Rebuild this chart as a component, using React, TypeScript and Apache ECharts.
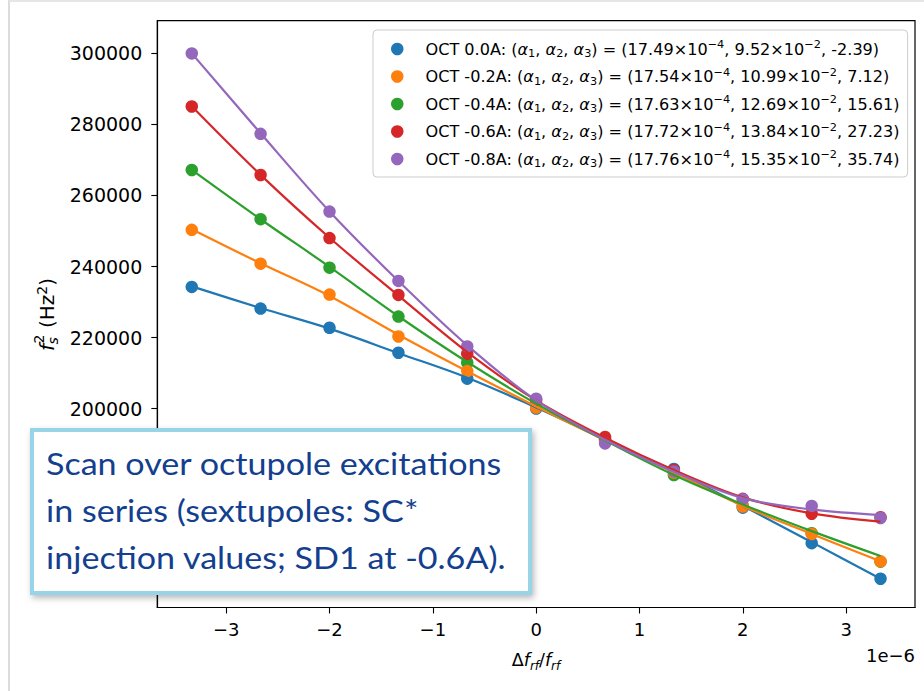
import React, { useEffect, useRef } from "react";
import * as echarts from "echarts";

// x positions in units of 1e-6 (Δf_rf / f_rf)
const X_VALUES = [-3.333, -2.667, -2.0, -1.333, -0.667, 0.0, 0.667, 1.333, 2.0, 2.667, 3.333];
const X_TICKS = [-3, -2, -1, 0, 1, 2, 3];
const Y_TICKS = [160000, 180000, 200000, 220000, 240000, 260000, 280000, 300000];

const SERIES_NAMES = ["OCT 0.0A", "OCT -0.2A", "OCT -0.4A", "OCT -0.6A", "OCT -0.8A"];
const SERIES_COLORS = ["#1f77b4", "#ff7f0e", "#2ca02c", "#d62728", "#9467bd"];

// measured points f_s^2 (Hz^2)
const PTS_0_0A = [234250, 228160, 222750, 215720, 208420, 200000, 191000, 183000, 172100, 162100, 152100];
const PTS_0_2A = [250330, 240790, 232090, 220300, 210550, 200300, 191200, 182000, 172400, 164700, 157000];
const PTS_0_4A = [267170, 253330, 239660, 225910, 212910, 201500, 191300, 181300, 172600, 164900, 156900];
const PTS_0_6A = [285050, 265770, 248000, 232000, 215440, 202400, 192000, 182700, 174600, 170400, 169400];
const PTS_0_8A = [300000, 277360, 255470, 235930, 217490, 202800, 190200, 182300, 174500, 172600, 169200];

// fitted curves
const FIT_0_0A = [234400, 228300, 222500, 215600, 208700, 200300, 191300, 182400, 172600, 162400, 152100];
const FIT_0_2A = [250500, 240900, 231700, 220800, 210500, 200600, 191100, 182000, 172600, 164700, 157000];
const FIT_0_4A = [267200, 253300, 239900, 226000, 213100, 201400, 191000, 181300, 173000, 165500, 158500];
const FIT_0_6A = [285100, 265800, 248100, 231800, 215900, 202300, 191800, 182700, 175000, 170500, 168200];
const FIT_0_8A = [300000, 277500, 255500, 235900, 217800, 202300, 191200, 182200, 174800, 171600, 170000];

// legend fit coefficients
const ALPHA1 = ["17.49", "17.54", "17.63", "17.72", "17.76"];
const ALPHA2 = ["9.52", "10.99", "12.69", "13.84", "15.35"];
const ALPHA3 = ["-2.39", "7.12", "15.61", "27.23", "35.74"];

const POINTS = [PTS_0_0A, PTS_0_2A, PTS_0_4A, PTS_0_6A, PTS_0_8A];
const FITS = [FIT_0_0A, FIT_0_2A, FIT_0_4A, FIT_0_6A, FIT_0_8A];
// drawing order of the dots (green below orange)
const SCATTER_ORDER = [0, 2, 1, 3, 4];

const FONT = "DejaVu Sans";
const LEG_FS = 16.1;
const LEG_SUB = 11.3;

export default function App() {
  const ref = useRef<HTMLDivElement>(null);

  useEffect(() => {
    if (!ref.current) return;
    const chart = echarts.init(ref.current, undefined, { renderer: "svg" });

    const scatterSeries = SCATTER_ORDER.map((i) => ({
      type: "scatter",
      name: SERIES_NAMES[i],
      data: X_VALUES.map((x, j) => [x, POINTS[i][j]]),
      symbol: "circle",
      symbolSize: 12.5,
      itemStyle: { color: SERIES_COLORS[i], opacity: 1 },
      z: 2,
      silent: true,
    }));
    const lineSeries = SERIES_NAMES.map((name, i) => ({
      type: "line",
      name: name + " fit",
      data: X_VALUES.map((x, j) => [x, FITS[i][j]]),
      showSymbol: false,
      symbol: "none",
      smooth: 0.35,
      lineStyle: { color: SERIES_COLORS[i], width: 2.2 },
      z: 3,
      silent: true,
    }));

    const legendText: Record<string, string> = {};
    SERIES_NAMES.forEach((n, i) => {
      legendText[n] =
        `{g| }{t|${n}: (}{a|α}{sb|1}{t|, }{a|α}{sb|2}{t|, }{a|α}{sb|3}{t|) = (${ALPHA1[i]}×10}{sp|−4}` +
        `{t|, ${ALPHA2[i]}×10}{sp|−2}{t|, ${ALPHA3[i]})}`;
    });

    const option: any = {
      animation: false,
      backgroundColor: "#ffffff",
      grid: {
        left: 157.3,
        right: 924 - 915,
        top: 20.7,
        bottom: 691 - 607.5,
        show: true,
        borderColor: "#000",
        borderWidth: 1.2,
        backgroundColor: "transparent",
        outerBoundsMode: "none",
      },
      xAxis: {
        type: "value",
        min: -3.6667,
        max: 3.6667,
        axisLine: { show: true, onZero: false, lineStyle: { color: "#000", width: 1.2 } },
        axisTick: { show: true, length: 6, lineStyle: { color: "#000", width: 1.1 }, customValues: X_TICKS },
        axisLabel: {
          customValues: X_TICKS,
          color: "#000",
          fontFamily: FONT,
          fontSize: 18,
          margin: 13,
          formatter: (v: number) => (v < 0 ? "\u2212" + Math.abs(v) : String(v)),
        },
        splitLine: { show: false },
      },
      yAxis: {
        type: "value",
        min: 144000,
        max: 309200,
        axisLine: { show: true, onZero: false, lineStyle: { color: "#000", width: 1.2 } },
        axisTick: { show: true, length: 6, lineStyle: { color: "#000", width: 1.1 }, customValues: Y_TICKS },
        axisLabel: {
          customValues: Y_TICKS,
          color: "#000",
          fontFamily: FONT,
          fontSize: 19,
          margin: 15,
          formatter: (v: number) => String(v),
        },
        splitLine: { show: false },
      },
      legend: {
        show: true,
        data: SERIES_NAMES,
        orient: "vertical",
        left: 373,
        top: 30,
        padding: [9, 8, 8, 18],
        itemGap: 7.5,
        itemWidth: 12.5,
        itemHeight: 12.5,
        icon: "circle",
        backgroundColor: "rgba(255,255,255,0.9)",
        borderColor: "#cccccc",
        borderWidth: 1,
        borderRadius: 4,
        selectedMode: false,
        formatter: (name: string) => legendText[name],
        textStyle: {
          color: "#000",
          fontFamily: FONT,
          fontSize: LEG_FS,
          rich: {
            g: { width: 17, fontSize: LEG_FS, lineHeight: 20 },
            t: { fontFamily: FONT, fontSize: LEG_FS, color: "#000", lineHeight: 20, verticalAlign: "middle" },
            a: { fontFamily: FONT, fontStyle: "italic", fontSize: LEG_FS, color: "#000", lineHeight: 20, verticalAlign: "middle" },
            sb: { fontFamily: FONT, fontSize: LEG_SUB, color: "#000", lineHeight: 12, verticalAlign: "bottom" },
            sp: { fontFamily: FONT, fontSize: LEG_SUB, color: "#000", lineHeight: 10, verticalAlign: "top" },
          },
        },
      },
      graphic: [
        // page frame lines
        { type: "line", z: 200, shape: { x1: 9, y1: 0, x2: 9, y2: 691 }, style: { stroke: "#dcdcdc", lineWidth: 2 } },
        { type: "line", z: 200, shape: { x1: 9, y1: 1, x2: 924, y2: 1 }, style: { stroke: "#e6e6e6", lineWidth: 2 } },
        // y axis title
        {
          type: "group",
          x: 46.5,
          y: 315,
          rotation: Math.PI / 2,
          z: 50,
          children: [
            { type: "text", x: -36, y: 0, style: { text: "f", font: `italic 20px ${FONT}`, fill: "#000", align: "left", verticalAlign: "middle" } },
            { type: "text", x: -28.5, y: -8, style: { text: "2", font: `14px ${FONT}`, fill: "#000", align: "left", verticalAlign: "middle" } },
            { type: "text", x: -29.5, y: 6, style: { text: "s", font: `italic 14px ${FONT}`, fill: "#000", align: "left", verticalAlign: "middle" } },
            {
              type: "text",
              x: -13,
              y: 0,
              style: {
                text: "{t|(Hz}{p|2}{t|)}",
                fill: "#000",
                align: "left",
                verticalAlign: "middle",
                rich: {
                  t: { font: `20px ${FONT}`, fill: "#000", lineHeight: 24, verticalAlign: "middle" },
                  p: { font: `14px ${FONT}`, fill: "#000", lineHeight: 13, verticalAlign: "top" },
                },
              },
            },
          ],
        },
        // x axis title
        {
          type: "text",
          x: 536,
          y: 660,
          z: 50,
          style: {
            text: "{n|Δ}{i|f}{s|rf}{n|/}{i|f}{s|rf}",
            align: "center",
            verticalAlign: "middle",
            rich: {
              n: { font: `17.5px ${FONT}`, fill: "#000", lineHeight: 24, verticalAlign: "middle" },
              i: { font: `italic 17.5px ${FONT}`, fill: "#000", lineHeight: 24, verticalAlign: "middle" },
              s: { font: `italic 12px ${FONT}`, fill: "#000", lineHeight: 14, verticalAlign: "bottom" },
            },
          },
        },
        // offset text
        {
          type: "text",
          x: 915,
          y: 655,
          z: 50,
          style: { text: "1e\u22126", font: `18px ${FONT}`, fill: "#000", align: "right", verticalAlign: "middle" },
        },
        // annotation box
        {
          type: "rect",
          z: 100,
          shape: { x: 32, y: 430, width: 498, height: 163 },
          style: {
            fill: "#ffffff",
            stroke: "#98d4e8",
            lineWidth: 4,
            shadowBlur: 6,
            shadowColor: "rgba(0,0,0,0.28)",
            shadowOffsetX: 2,
            shadowOffsetY: 3,
          },
        },
        {
          type: "text",
          z: 101,
          x: 46,
          y: 440,
          scaleX: 1.1,
          style: {
            text: "Scan over octupole excitations\nin series (sextupoles: SC*\ninjection values; SD1 at -0.6A).",
            font: "31px Lato",
            lineHeight: 47,
            fill: "#133f8e",
            align: "left",
            verticalAlign: "top",
          },
        },
      ],
      series: [...scatterSeries, ...lineSeries],
    };

    chart.setOption(option);
    return () => chart.dispose();
  }, []);

  return (
    <div
      ref={ref}
      style={{ position: "fixed", left: 0, top: 0, width: 924, height: 691, background: "#fff" }}
    />
  );
}
